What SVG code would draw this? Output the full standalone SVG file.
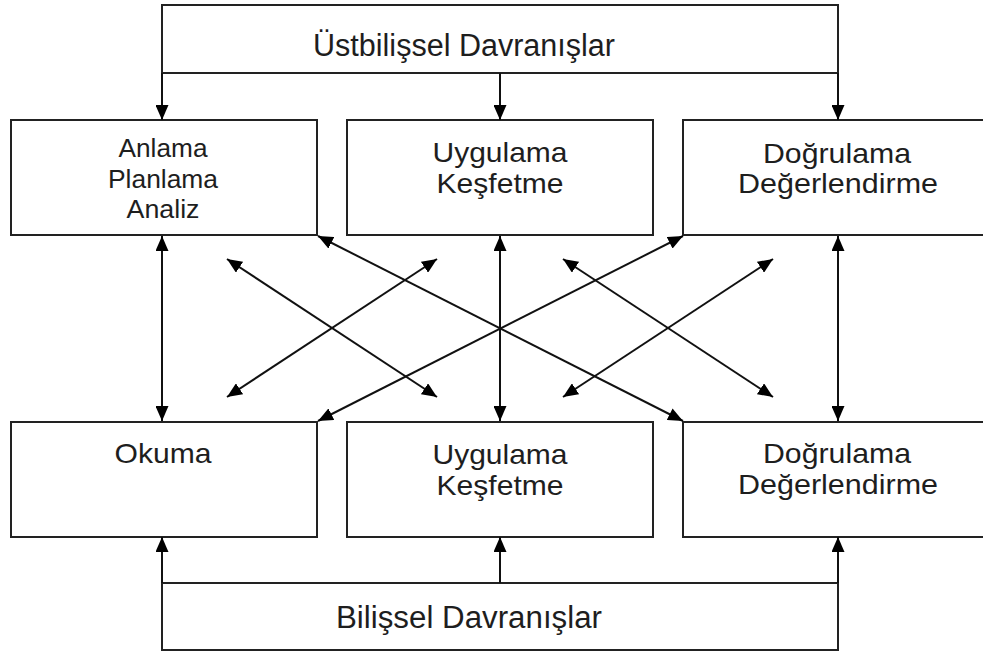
<svg xmlns="http://www.w3.org/2000/svg" width="983" height="657" viewBox="0 0 983 657">
<style>
.box{fill:#fff;stroke:#222;stroke-width:2}
.ln{fill:none;stroke:#111;stroke-width:2}
text{font-family:"Liberation Sans",Arial,sans-serif;font-size:28px;fill:#1e1e1e;text-anchor:middle}
.sm{font-size:25px}
.lg{font-size:31px}
</style>
<defs>
<marker id="ah" viewBox="0 0 15 13" refX="15" refY="6.5" markerWidth="15" markerHeight="13" markerUnits="userSpaceOnUse" orient="auto-start-reverse">
<path d="M0,0 L15,6.5 L0,13 z" fill="#000"/>
</marker>
</defs>
<rect width="983" height="657" fill="#fff"/>
<g id="top">
<rect class="box" x="162" y="5" width="676" height="68"/>
<text class="lg" x="464" y="56" textLength="302" lengthAdjust="spacingAndGlyphs">Üstbilişsel Davranışlar</text>
</g>
<g id="bottom">
<rect class="box" x="162" y="583" width="676" height="67"/>
<text class="lg" x="469" y="628" textLength="266" lengthAdjust="spacingAndGlyphs">Bilişsel Davranışlar</text>
</g>
<g id="nodeA">
<rect class="box" x="11" y="120" width="306" height="115"/>
<text class="sm" x="163" y="157" textLength="89" lengthAdjust="spacingAndGlyphs">Anlama</text>
<text class="sm" x="163" y="188" textLength="110" lengthAdjust="spacingAndGlyphs">Planlama</text>
<text class="sm" x="163" y="218" textLength="73" lengthAdjust="spacingAndGlyphs">Analiz</text>
</g>
<g id="nodeB">
<rect class="box" x="347" y="120" width="306" height="115"/>
<text x="500" y="162" textLength="135" lengthAdjust="spacingAndGlyphs">Uygulama</text>
<text x="500" y="193" textLength="127" lengthAdjust="spacingAndGlyphs">Keşfetme</text>
</g>
<g id="nodeC">
<rect class="box" x="683" y="120" width="302" height="115"/>
<text x="837" y="163" textLength="148" lengthAdjust="spacingAndGlyphs">Doğrulama</text>
<text x="838" y="193" textLength="200" lengthAdjust="spacingAndGlyphs">Değerlendirme</text>
</g>
<g id="nodeD">
<rect class="box" x="11" y="422" width="306" height="115"/>
<text x="163" y="463" textLength="97" lengthAdjust="spacingAndGlyphs">Okuma</text>
</g>
<g id="nodeE">
<rect class="box" x="347" y="422" width="306" height="115"/>
<text x="500" y="464" textLength="135" lengthAdjust="spacingAndGlyphs">Uygulama</text>
<text x="500" y="495" textLength="127" lengthAdjust="spacingAndGlyphs">Keşfetme</text>
</g>
<g id="nodeF">
<rect class="box" x="683" y="422" width="302" height="115"/>
<text x="837" y="463" textLength="148" lengthAdjust="spacingAndGlyphs">Doğrulama</text>
<text x="838" y="494" textLength="200" lengthAdjust="spacingAndGlyphs">Değerlendirme</text>
</g>
<g id="connectors" class="ln">
<path class="ln" d="M162,73 V120" marker-end="url(#ah)"/>
<path class="ln" d="M500,73 V120" marker-end="url(#ah)"/>
<path class="ln" d="M838,73 V120" marker-end="url(#ah)"/>
<path class="ln" d="M162,583 V537" marker-end="url(#ah)"/>
<path class="ln" d="M500,583 V537" marker-end="url(#ah)"/>
<path class="ln" d="M838,583 V537" marker-end="url(#ah)"/>
<path class="ln" d="M162,236 V421" marker-start="url(#ah)" marker-end="url(#ah)"/>
<path class="ln" d="M500,236 V421" marker-start="url(#ah)" marker-end="url(#ah)"/>
<path class="ln" d="M838,236 V421" marker-start="url(#ah)" marker-end="url(#ah)"/>
<path class="ln" d="M318,236 L683,421" marker-start="url(#ah)" marker-end="url(#ah)"/>
<path class="ln" d="M683,236 L318,421" marker-start="url(#ah)" marker-end="url(#ah)"/>
<path class="ln" d="M227,259 L437,397" marker-start="url(#ah)" marker-end="url(#ah)"/>
<path class="ln" d="M227,397 L437,259" marker-start="url(#ah)" marker-end="url(#ah)"/>
<path class="ln" d="M563,259 L773,397" marker-start="url(#ah)" marker-end="url(#ah)"/>
<path class="ln" d="M563,397 L773,259" marker-start="url(#ah)" marker-end="url(#ah)"/>
</g>
</svg>
